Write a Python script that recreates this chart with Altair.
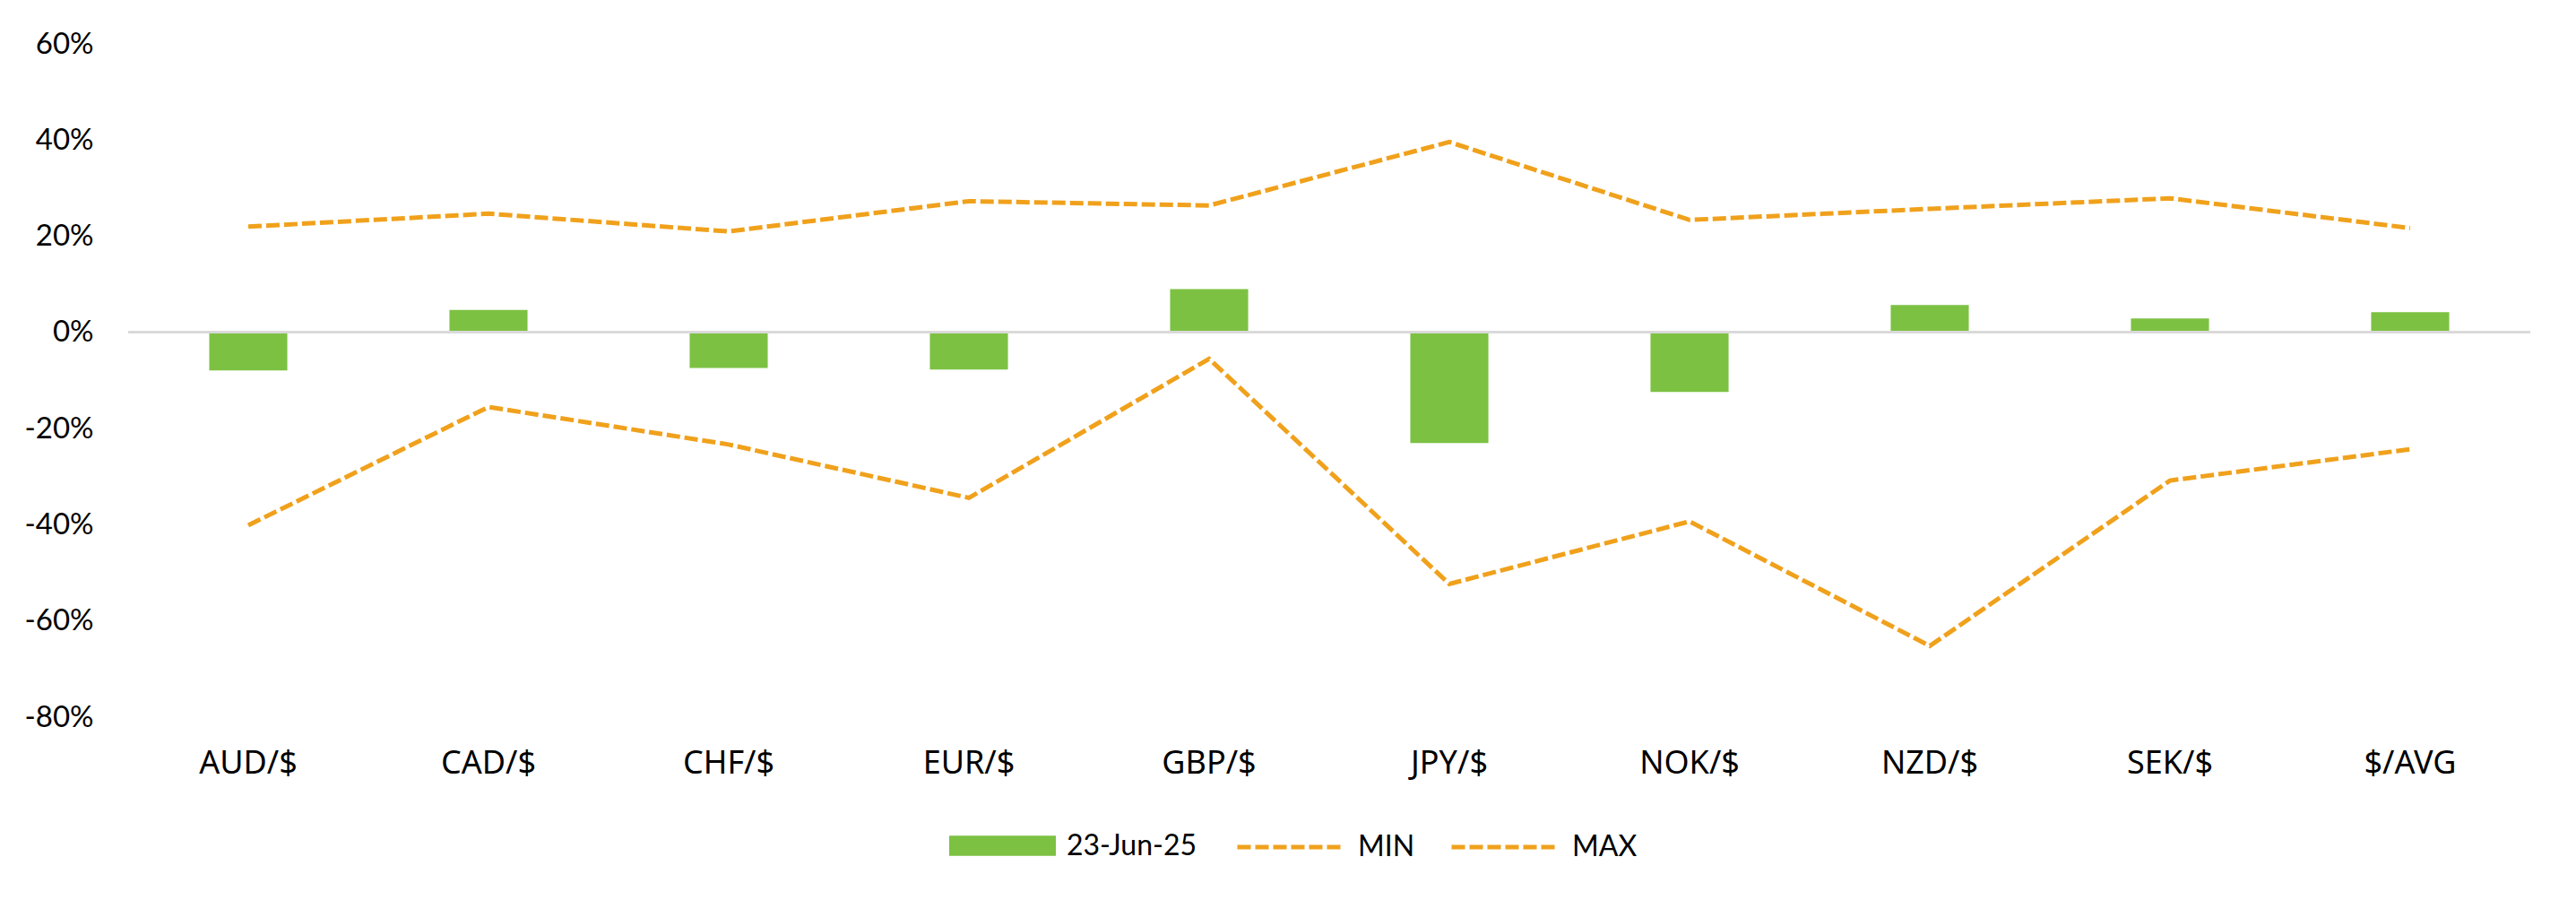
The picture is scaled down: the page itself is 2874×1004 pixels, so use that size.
import altair as alt
import pandas as pd

# FX pairs: latest reading vs historical min / max range
pairs = ["AUD/$", "CAD/$", "CHF/$", "EUR/$", "GBP/$", "JPY/$", "NOK/$", "NZD/$", "SEK/$", "$/AVG"]
latest = [-0.079, 0.047, -0.074, -0.077, 0.090, -0.230, -0.124, 0.057, 0.029, 0.042]
min_vals = [-0.401, -0.155, -0.233, -0.344, -0.055, -0.523, -0.393, -0.652, -0.308, -0.243]
max_vals = [0.220, 0.247, 0.210, 0.273, 0.264, 0.396, 0.234, 0.257, 0.279, 0.217]
bar_label = "23-Jun-25"
line_labels = ["MIN", "MAX"]
y_ticks = [-0.8, -0.6, -0.4, -0.2, 0.0, 0.2, 0.4, 0.6]

GREEN = "#7DC143"
ORANGE = "#F0A11C"
DASH = [15, 5]

bar_df = pd.DataFrame({"pair": pairs, "value": latest, "series": bar_label})
line_df = pd.concat([
    pd.DataFrame({"pair": pairs, "value": min_vals, "series": "MIN"}),
    pd.DataFrame({"pair": pairs, "value": max_vals, "series": "MAX"}),
])

x_enc = alt.X(
    "pair:N", sort=pairs, title=None,
    scale=alt.Scale(paddingInner=0.675, paddingOuter=0.3375),
    axis=alt.Axis(labelAngle=0, ticks=False, tickSize=0, domain=False, labelPadding=34,
                  labelFont="Noto Sans", labelFontSize=36, labelColor="#000000"),
)
y_enc = alt.Y(
    "value:Q", title=None,
    scale=alt.Scale(domain=[-0.8, 0.6], nice=False),
    axis=alt.Axis(values=y_ticks, format=".0%", grid=False, ticks=False, tickSize=0,
                  domain=False, labelPadding=39, labelFont="Lato", labelFontSize=33,
                  labelColor="#000000",
                  # plain hyphen instead of the unicode minus
                  labelExpr="replace(datum.label, '\u2212', '-')"),
)

bars = alt.Chart(bar_df).mark_bar(cornerRadius=0).encode(
    x=x_enc,
    y=y_enc,
    color=alt.Color(
        "series:N",
        scale=alt.Scale(domain=[bar_label], range=[GREEN]),
        legend=alt.Legend(
            orient="none", legendX=916, legendY=835, title=None, padding=0,
            symbolType="M-1,-0.19H1V0.19H-1Z", symbolSize=119 * 119,
            symbolStrokeWidth=0, symbolOpacity=1,
            labelFont="Lato", labelFontSize=32, labelColor="#000000", labelOffset=12,
        ),
    ),
)

zero = alt.Chart(bar_df).mark_rule(color="#D9D9D9", strokeWidth=2.5).encode(y=alt.datum(0))

lines = alt.Chart(line_df).mark_line(color=ORANGE, strokeWidth=5).encode(
    x=alt.X("pair:N", sort=pairs),
    y=alt.Y("value:Q"),
    detail="series:N",
    strokeDash=alt.StrokeDash(
        "series:N",
        scale=alt.Scale(domain=line_labels, range=[DASH, DASH]),
        legend=alt.Legend(
            orient="none", legendX=1235, legendY=836, title=None, padding=0,
            direction="horizontal", columns=2, columnPadding=30,
            symbolType="stroke", symbolSize=115 * 115, symbolStrokeWidth=5,
            symbolStrokeColor=ORANGE,
            labelFont="Lato", labelFontSize=32, labelColor="#000000", labelOffset=17,
        ),
    ),
)

chart = (
    alt.layer(bars, zero, lines)
    .properties(
        width=2680, height=751,
        autosize=alt.AutoSizeParams(type="none"),
        padding={"left": 135, "top": 41, "right": 43, "bottom": 196},
    )
    .configure(background="#ffffff")
    .configure_view(stroke=None)
)

chart.save("out.html", embed_options={"renderer": "svg", "actions": False})
